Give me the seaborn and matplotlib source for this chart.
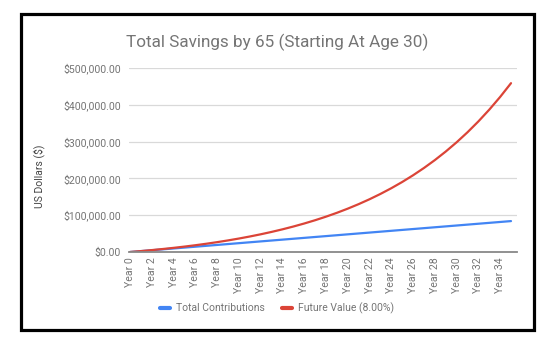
import matplotlib
matplotlib.use("Agg")
import matplotlib.pyplot as plt
import seaborn as sns
import pandas as pd
from matplotlib.patches import Rectangle
from matplotlib.ticker import FuncFormatter
from matplotlib.lines import Line2D

years = list(range(36))
year_labels = [f"Year {y}" for y in years]

total_contributions = [
    0, 2400, 4800, 7200, 9600, 12000, 14400, 16800, 19200, 21600,
    24000, 26400, 28800, 31200, 33600, 36000, 38400, 40800, 43200, 45600,
    48000, 50400, 52800, 55200, 57600, 60000, 62400, 64800, 67200, 69600,
    72000, 74400, 76800, 79200, 81600, 84000,
]
future_value = [
    0, 2490, 5187, 8107, 11270, 14696, 18405, 22423, 26774, 31486,
    36590, 42117, 48103, 54585, 61606, 69209, 77444, 86361, 96020, 106479,
    117807, 130075, 143361, 157750, 173333, 190210, 208488, 228282, 249720, 272937,
    298080, 325311, 354801, 386741, 421330, 458790,
]
series_names = ["Total Contributions", "Future Value (8.00%)"]
series_colors = ["#4285F4", "#DB4437"]
y_ticks = [0, 100000, 200000, 300000, 400000, 500000]

df = pd.DataFrame({
    "year": years * 2,
    "value": total_contributions + future_value,
    "series": [series_names[0]] * len(years) + [series_names[1]] * len(years),
})

sns.set_style("white")
plt.rcParams["font.family"] = ["Roboto", "DejaVu Sans"]

fig = plt.figure(figsize=(5.54, 3.45), dpi=100)
ax = fig.add_axes([129 / 554, 1 - 252 / 345, (517 - 129) / 554, (252 - 68) / 345])

sns.lineplot(data=df, x="year", y="value", hue="series",
             palette=dict(zip(series_names, series_colors)),
             linewidth=1.6, ax=ax, legend=False)

ax.set_xlim(-0.1, 35.55)
ax.set_ylim(0, 500000)
ax.set_yticks(y_ticks)
ax.yaxis.set_major_formatter(FuncFormatter(lambda v, p: f"${v:,.2f}"))
ax.set_xticks(years[::2])
ax.set_xticklabels(year_labels[::2], rotation=90)
ax.tick_params(axis="both", length=0, labelsize=7.6, labelcolor="#757575")
ax.tick_params(axis="x", pad=4)
ax.tick_params(axis="y", pad=6)
ax.grid(axis="y", color="#d9d9d9", linewidth=0.9)
ax.set_axisbelow(True)
for side in ["top", "right", "left"]:
    ax.spines[side].set_visible(False)
ax.spines["bottom"].set_color("#888888")
ax.spines["bottom"].set_linewidth(1.3)
ax.set_xlabel("")
ax.set_ylabel("US Dollars ($)", fontsize=7.5, color="#444444")
ax.yaxis.set_label_coords(-0.2165, 0.41)

fig.text(277 / 554, 1 - 42 / 345, "Total Savings by 65 (Starting At Age 30)",
         ha="center", va="center", fontsize=12.3, color="#757575")

handles = [Line2D([0], [0], color=c, linewidth=3) for c in series_colors]
fig.legend(handles, series_names, loc="center", bbox_to_anchor=(277 / 554, 1 - 308 / 345),
           ncol=2, frameon=False, fontsize=7.5, labelcolor="#757575",
           handlelength=1.0, handletextpad=0.6, columnspacing=1.6)

fig.add_artist(Rectangle((21 / 554, 1 - 330 / 345), (534 - 21) / 554, (330 - 14) / 345,
                         transform=fig.transFigure, fill=False, edgecolor="black",
                         linewidth=2.3))

fig.savefig("out.png", dpi=100)
